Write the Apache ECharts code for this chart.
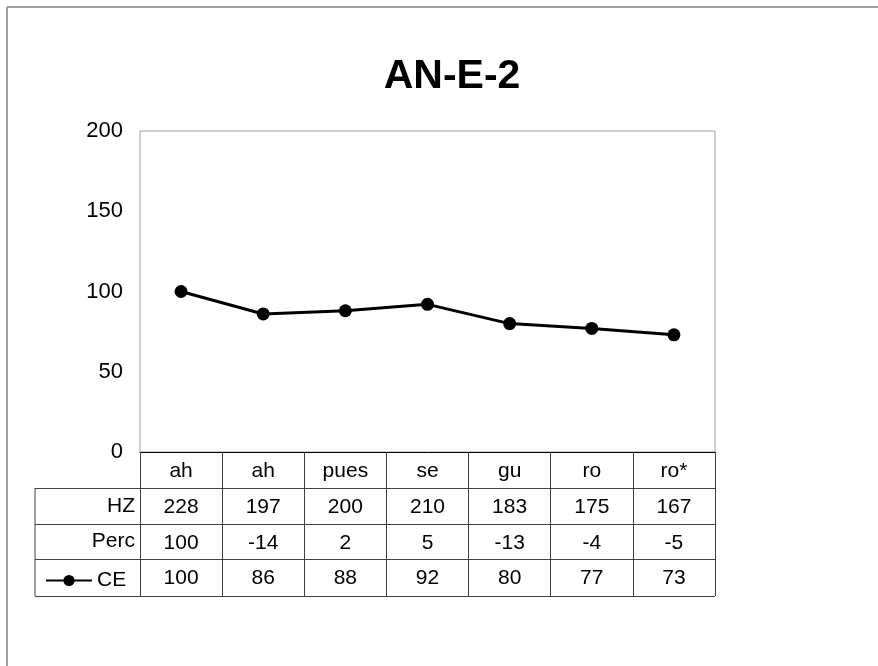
<!DOCTYPE html>
<html>
<head>
<meta charset="utf-8">
<script src="https://cdn.jsdelivr.net/npm/echarts@6/dist/echarts.min.js"></script>
<style>
html,body{margin:0;padding:0;background:#fff;}
#chart{width:878px;height:666px;}
</style>
</head>
<body>
<div id="chart"></div>
<script>
var categories = ['ah', 'ah', 'pues', 'se', 'gu', 'ro', 'ro*'];
var hzValues = [228, 197, 200, 210, 183, 175, 167];
var percValues = [100, -14, 2, 5, -13, -4, -5];
var ceValues = [100, 86, 88, 92, 80, 77, 73];
var yTicks = [0, 50, 100, 150, 200];
var rowLabels = ['HZ', 'Perc', 'CE'];

var FONT = '"Liberation Sans", Arial, sans-serif';
var gridLeft = 140, gridTop = 131, gridW = 575, gridH = 321;
var gridBottom = gridTop + gridH;
var rowH = [36, 36, 35, 37];
var rowTops = [gridBottom];
for (var i = 0; i < rowH.length; i++) rowTops.push(rowTops[i] + rowH[i]);
var tableLeft = 35;
var lineColor = '#404040';

function labelAxis(data, offset, showLine) {
  return {
    type: 'category',
    gridIndex: 0,
    position: 'bottom',
    offset: offset,
    data: data.map(String),
    boundaryGap: true,
    axisLine: {show: !!showLine, lineStyle: {color: '#000', width: 1}},
    axisTick: showLine ? {show: true, length: rowTops[4] - gridBottom, lineStyle: {color: lineColor}} : {show: false},
    axisLabel: {show: true, interval: 0, margin: 9, fontSize: 21, fontFamily: FONT, color: '#000'},
    splitLine: {show: false}
  };
}

var graphics = [
  {type: 'line', shape: {x1: 7, y1: 7, x2: 878, y2: 7}, style: {stroke: '#a0a0a0', lineWidth: 2}, silent: true},
  {type: 'line', shape: {x1: 7, y1: 7, x2: 7, y2: 666}, style: {stroke: '#a0a0a0', lineWidth: 2}, silent: true},
  {type: 'line', shape: {x1: tableLeft, y1: rowTops[1], x2: tableLeft, y2: rowTops[4]}, style: {stroke: lineColor, lineWidth: 1}, silent: true}
];
for (var r = 1; r <= 4; r++) {
  graphics.push({type: 'line', shape: {x1: tableLeft, y1: rowTops[r] + 0.5, x2: gridLeft + gridW, y2: rowTops[r] + 0.5}, style: {stroke: lineColor, lineWidth: 1}, silent: true});
}
for (var k = 0; k < 2; k++) {
  graphics.push({
    type: 'text', x: 135, y: (rowTops[k + 1] + rowTops[k + 2]) / 2,
    style: {text: rowLabels[k], font: '21px ' + FONT, fill: '#000', textAlign: 'right', textVerticalAlign: 'middle'},
    silent: true
  });
}

var option = {
  backgroundColor: '#fff',
  animation: false,
  title: {
    text: 'AN-E-2', left: 447, top: 51, textAlign: 'center',
    textStyle: {fontSize: 41, fontWeight: 'bold', fontFamily: FONT, color: '#000'}
  },
  legend: {
    data: [rowLabels[2]], left: 40, top: rowTops[3] + 6, itemWidth: 46, itemHeight: 14, itemGap: 5,
    textStyle: {fontSize: 21, fontFamily: FONT, color: '#000'}
  },
  grid: {left: gridLeft, top: gridTop, width: gridW, height: gridH, show: true, borderColor: '#a0a0a0', borderWidth: 1, backgroundColor: 'transparent'},
  xAxis: [
    labelAxis(categories, 0, true),
    labelAxis(hzValues, rowTops[1] - gridBottom, false),
    labelAxis(percValues, rowTops[2] - gridBottom, false),
    labelAxis(ceValues, rowTops[3] - gridBottom, false)
  ],
  yAxis: {
    type: 'value', min: yTicks[0], max: yTicks[yTicks.length - 1], interval: 50,
    axisLine: {show: false}, axisTick: {show: false}, splitLine: {show: false},
    axisLabel: {fontSize: 22, fontFamily: FONT, color: '#000', margin: 17}
  },
  series: [{
    name: rowLabels[2], type: 'line', xAxisIndex: 0, data: ceValues,
    symbol: 'circle', symbolSize: 13,
    lineStyle: {color: '#000', width: 3},
    itemStyle: {color: '#000'}
  }],
  graphic: graphics
};

var chart = echarts.init(document.getElementById('chart'), null, {renderer: 'canvas'});
chart.setOption(option);
</script>
</body>
</html>
